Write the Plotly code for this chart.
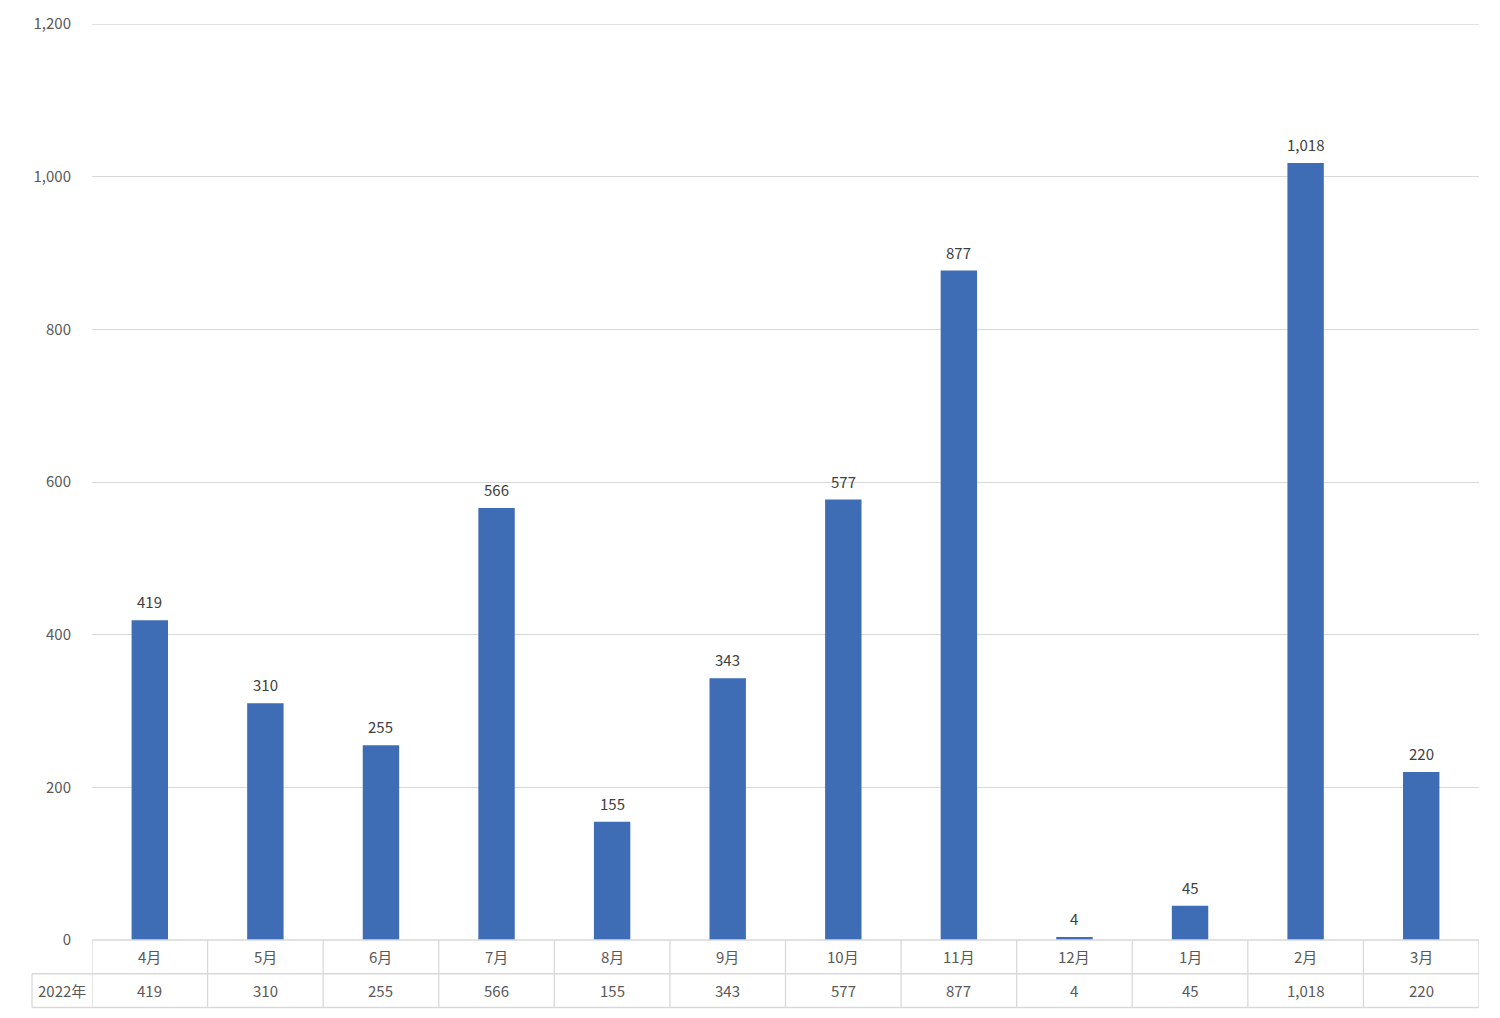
import plotly.graph_objects as go

months = ["4月", "5月", "6月", "7月", "8月", "9月", "10月", "11月", "12月", "1月", "2月", "3月"]
series_name = "2022年"
values = [419, 310, 255, 566, 155, 343, 577, 877, 4, 45, 1018, 220]
y_ticks = [0, 200, 400, 600, 800, 1000, 1200]

BAR = "#3E6DB5"
GRID = "#D9D9D9"
TXT = "#595959"
FONT = "Noto Sans CJK JP, Open Sans, sans-serif"
FS = 15

W, H = 1500, 1018
L, R, T, B = 92, 21, 17, 78
plot_h = H - T - B
plot_w = W - L - R
row_h = 34 / plot_h
left_col = 60 / plot_w

fig = go.Figure()
fig.add_trace(go.Bar(
    x=list(range(len(months))), y=values,
    marker=dict(color=BAR, line=dict(width=0)),
    width=0.315, hoverinfo="skip",
))

shapes = []
line = dict(color=GRID, width=1.3)
n = len(months)
# top gridline
shapes.append(dict(type="line", xref="paper", yref="y", x0=0, x1=1, y0=y_ticks[-1], y1=y_ticks[-1], line=line))
# horizontal table lines
shapes.append(dict(type="line", xref="paper", yref="paper", x0=0, x1=1, y0=0, y1=0, line=line))
shapes.append(dict(type="line", xref="paper", yref="paper", x0=-left_col, x1=1, y0=-row_h, y1=-row_h, line=line))
shapes.append(dict(type="line", xref="paper", yref="paper", x0=-left_col, x1=1, y0=-2 * row_h, y1=-2 * row_h, line=line))
# vertical lines
for i in range(n + 1):
    shapes.append(dict(type="line", xref="x", yref="paper", x0=i - 0.5, x1=i - 0.5, y0=0, y1=-2 * row_h, line=line))
shapes.append(dict(type="line", xref="paper", yref="paper", x0=-left_col, x1=-left_col, y0=-row_h, y1=-2 * row_h, line=line))

ann = []
for i, (m, v) in enumerate(zip(months, values)):
    # data label above bar
    ann.append(dict(x=i, y=v, xref="x", yref="y", text=f"{v:,}", showarrow=False,
                    font=dict(size=FS, color="#404040", family=FONT), xanchor="center", yanchor="bottom",
                    yshift=6))
    ann.append(dict(x=i, y=-row_h / 2, xref="x", yref="paper", text=m, showarrow=False,
                    font=dict(size=FS, color=TXT, family=FONT), xanchor="center", yanchor="middle"))
    ann.append(dict(x=i, y=-1.5 * row_h, xref="x", yref="paper", text=f"{v:,}", showarrow=False,
                    font=dict(size=FS, color=TXT, family=FONT), xanchor="center", yanchor="middle"))
ann.append(dict(x=-left_col / 2, y=-1.5 * row_h, xref="paper", yref="paper", text=series_name, showarrow=False,
                font=dict(size=FS, color=TXT, family=FONT), xanchor="center", yanchor="middle"))

fig.update_layout(
    width=W, height=H,
    margin=dict(l=L, r=R, t=T, b=B),
    plot_bgcolor="white", paper_bgcolor="white",
    showlegend=False,
    shapes=shapes, annotations=ann,
    font=dict(family=FONT, color=TXT, size=FS),
    xaxis=dict(range=[-0.5, n - 0.5], showticklabels=False, showgrid=False, zeroline=False,
               showline=False, ticks=""),
    yaxis=dict(range=[0, 1200], tickvals=y_ticks, ticktext=[f"{t:,}" for t in y_ticks],
               showgrid=True, gridcolor=GRID, gridwidth=1.3, zeroline=False, showline=False,
               ticks="", ticklabelstandoff=20, tickfont=dict(size=FS, color=TXT, family=FONT)),
)

fig.write_html("out.html", config={"displayModeBar": False},
               post_script="document.body.style.margin='0';document.body.style.overflow='hidden';")
